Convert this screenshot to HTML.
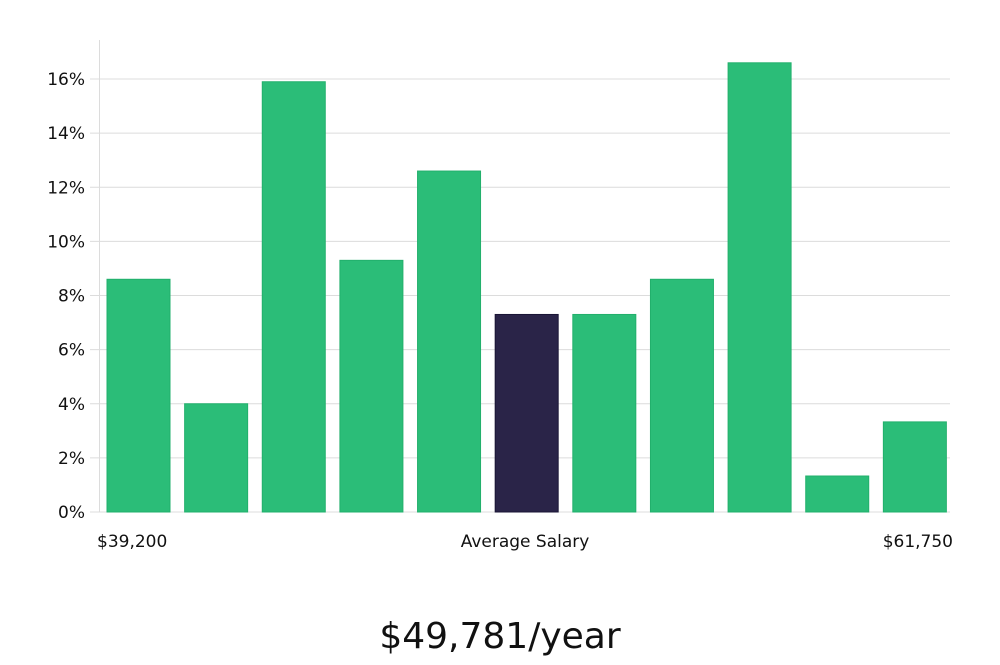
<!DOCTYPE html>
<html><head><meta charset="utf-8"><style>
body{margin:0;background:#fff;width:1000px;height:660px;overflow:hidden}
svg text{font-family:"DejaVu Sans","Liberation Sans",sans-serif;fill:#111}
</style></head><body>
<svg id="chart" width="1000" height="660" viewBox="0 0 1000 660"></svg>
<script>
const categories=["b1","b2","b3","b4","b5","b6","b7","b8","b9","b10","b11"];
const values=[8.6,4.0,15.9,9.3,12.6,7.3,7.3,8.6,16.6,1.33,3.33];
const highlightIndex=5;
const yTicks=[0,2,4,6,8,10,12,14,16];
const yTickLabels=["0%","2%","4%","6%","8%","10%","12%","14%","16%"];
const xLabels=["$39,200","Average Salary","$61,750"];
const NS="http://www.w3.org/2000/svg";
const svg=document.getElementById('chart');
const x0=100,x1=950,y0=512,pxPer=27.06;
const y=v=>y0-v*pxPer;
const step=(x1-x0+4)/categories.length;
const xb=i=>x0+7+i*step;
function mk(t,a){const e=document.createElementNS(NS,t);for(const k in a)e.setAttribute(k,a[k]);svg.appendChild(e);return e;}
yTicks.forEach((t,i)=>{
 const g=mk('line',{x1:90,x2:x1,y1:y(t),y2:y(t),stroke:'#dcdcdc','stroke-width':1});
 
 
 const tx=mk('text',{x:85,y:y(t)+6,'text-anchor':'end','font-size':17});
 tx.textContent=yTickLabels[i];
 
 
});
const ax=mk('line',{x1:99.5,x2:99.5,y1:40,y2:y0,stroke:'#dcdcdc','stroke-width':1});


values.forEach((v,i)=>{
 const hi=i===highlightIndex;
 const r=mk('rect',{x:xb(i),y:y(v),width:63,height:y0-y(v),fill:hi?'#2a2448':'#2bbd78',stroke:hi?'#1a1535':'#22b06c','stroke-width':1});
 
 
});
const pos=[[97,'start'],[525,'middle'],[953,'end']];
xLabels.forEach((l,i)=>{
 const t=mk('text',{x:pos[i][0],y:547,'text-anchor':pos[i][1],'font-size':17});
 t.textContent=l;
 
 
});
const s=mk('text',{x:500,y:648,'text-anchor':'middle','font-size':36});
s.setAttribute('font-family','"Liberation Sans",sans-serif');
s.textContent='$49,781/year';


</script>
</body></html>
